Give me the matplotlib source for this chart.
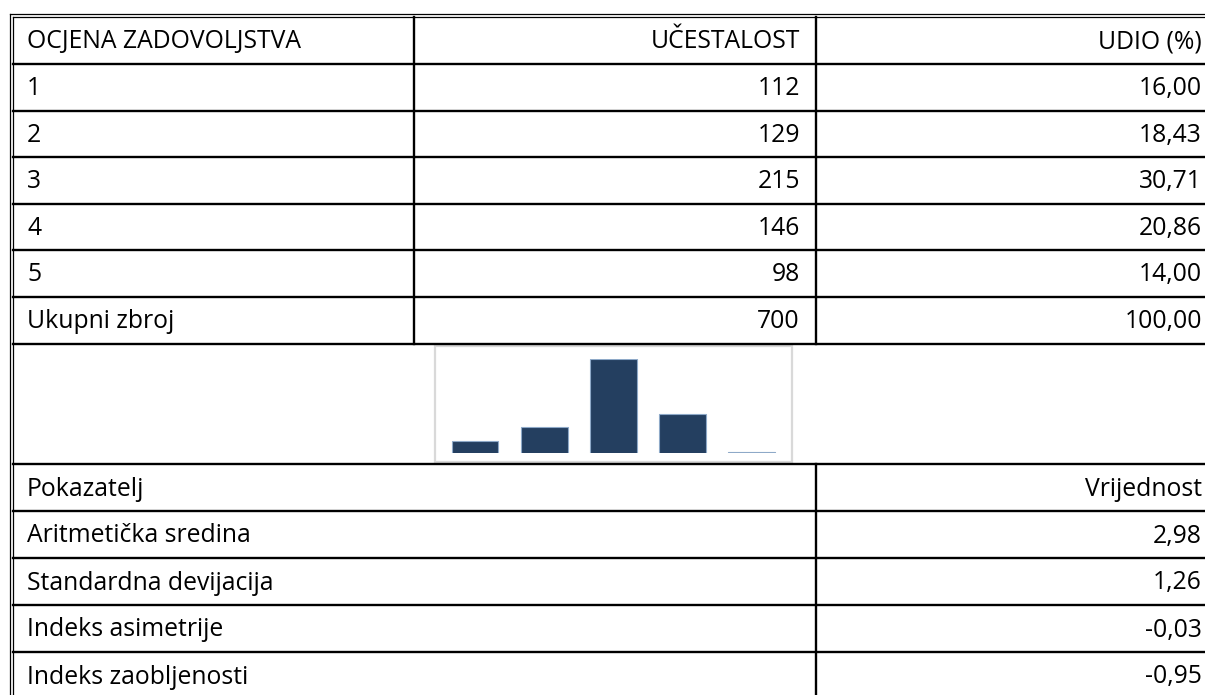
import matplotlib.pyplot as plt
from matplotlib.patches import Rectangle

plt.rcParams['font.family'] = ['Open Sans', 'DejaVu Sans']

# podaci
ocjene = ['1', '2', '3', '4', '5']
ucestalost = [112, 129, 215, 146, 98]
udio = [16.00, 18.43, 30.71, 20.86, 14.00]
ukupno_n = 700
ukupno_udio = 100.00

pokazatelji = ['Aritmetička sredina', 'Standardna devijacija',
               'Indeks asimetrije', 'Indeks zaobljenosti']
vrijednosti = [2.98, 1.26, -0.03, -0.95]


def fmt(v):
    return f'{v:.2f}'.replace('.', ',')


W, H = 1205, 695
fig = plt.figure(figsize=(W / 100, H / 100), dpi=100)
ax = fig.add_axes([0, 0, 1, 1])
ax.set_xlim(0, W)
ax.set_ylim(H, 0)
ax.axis('off')

fs = 17.8
lw = 1.7
x_left, x_mid, x_right = 27, 800, 1202

# okvir (dvostruka linija)
ax.plot([10, W], [13.5, 13.5], color='black', lw=0.9)
ax.plot([13, W], [16.5, 16.5], color='black', lw=0.9)
ax.plot([10, 10], [13.5, H], color='black', lw=0.9)
ax.plot([13, 13], [16.5, H], color='black', lw=0.9)

# gornja tablica
redovi = [('OCJENA ZADOVOLJSTVA', 'UČESTALOST', 'UDIO (%)')]
for o, n, u in zip(ocjene, ucestalost, udio):
    redovi.append((o, str(n), fmt(u)))
redovi.append(('Ukupni zbroj', str(ukupno_n), fmt(ukupno_udio)))

granice = [16.5, 64, 110.5, 157, 203.5, 250, 296.5, 343.5]
for i, (a, b, c) in enumerate(redovi):
    yc = (granice[i] + granice[i + 1]) / 2
    yb = yc + 8
    ax.text(x_left, yb, a, fontsize=fs, va='baseline', ha='left')
    ax.text(x_mid, yb, b, fontsize=fs, va='baseline', ha='right')
    ax.text(x_right, yb, c, fontsize=fs, va='baseline', ha='right')
for y in granice[1:]:
    ax.plot([13, W], [y, y], color='black', lw=lw)
ax.plot([414, 414], [16.5, 343.5], color='black', lw=lw)
ax.plot([816, 816], [16.5, 343.5], color='black', lw=lw)

# mali grafikon
ax.add_patch(Rectangle((435, 346), 357, 116, facecolor='white',
                       edgecolor='#d9d9d9', lw=1.6))
bx = fig.add_axes([435 / W, 1 - 453 / H, 357 / W, 94 / H])
bx.bar(range(len(ucestalost)), ucestalost, width=0.67,
       color='#243f60', edgecolor='#8ea9c8', linewidth=0.8)
bx.set_xlim(-0.584, 4.586)
bx.set_ylim(96.5, 215.5)
bx.axis('off')

# donja tablica
ax.plot([13, W], [464, 464], color='black', lw=lw)
donje = [('Pokazatelj', 'Vrijednost')] + [(p, fmt(v)) for p, v in zip(pokazatelji, vrijednosti)]
granice2 = [464, 511, 558, 605, 652, 699]
for i, (a, b) in enumerate(donje):
    yc = (granice2[i] + granice2[i + 1]) / 2
    yb = yc + 8
    ax.text(x_left, yb, a, fontsize=fs, va='baseline', ha='left')
    ax.text(x_right, yb, b, fontsize=fs, va='baseline', ha='right')
for y in granice2[1:-1]:
    ax.plot([13, W], [y, y], color='black', lw=lw)
ax.plot([816, 816], [464, H], color='black', lw=lw)

fig.savefig('out.png', dpi=100, facecolor='white')
